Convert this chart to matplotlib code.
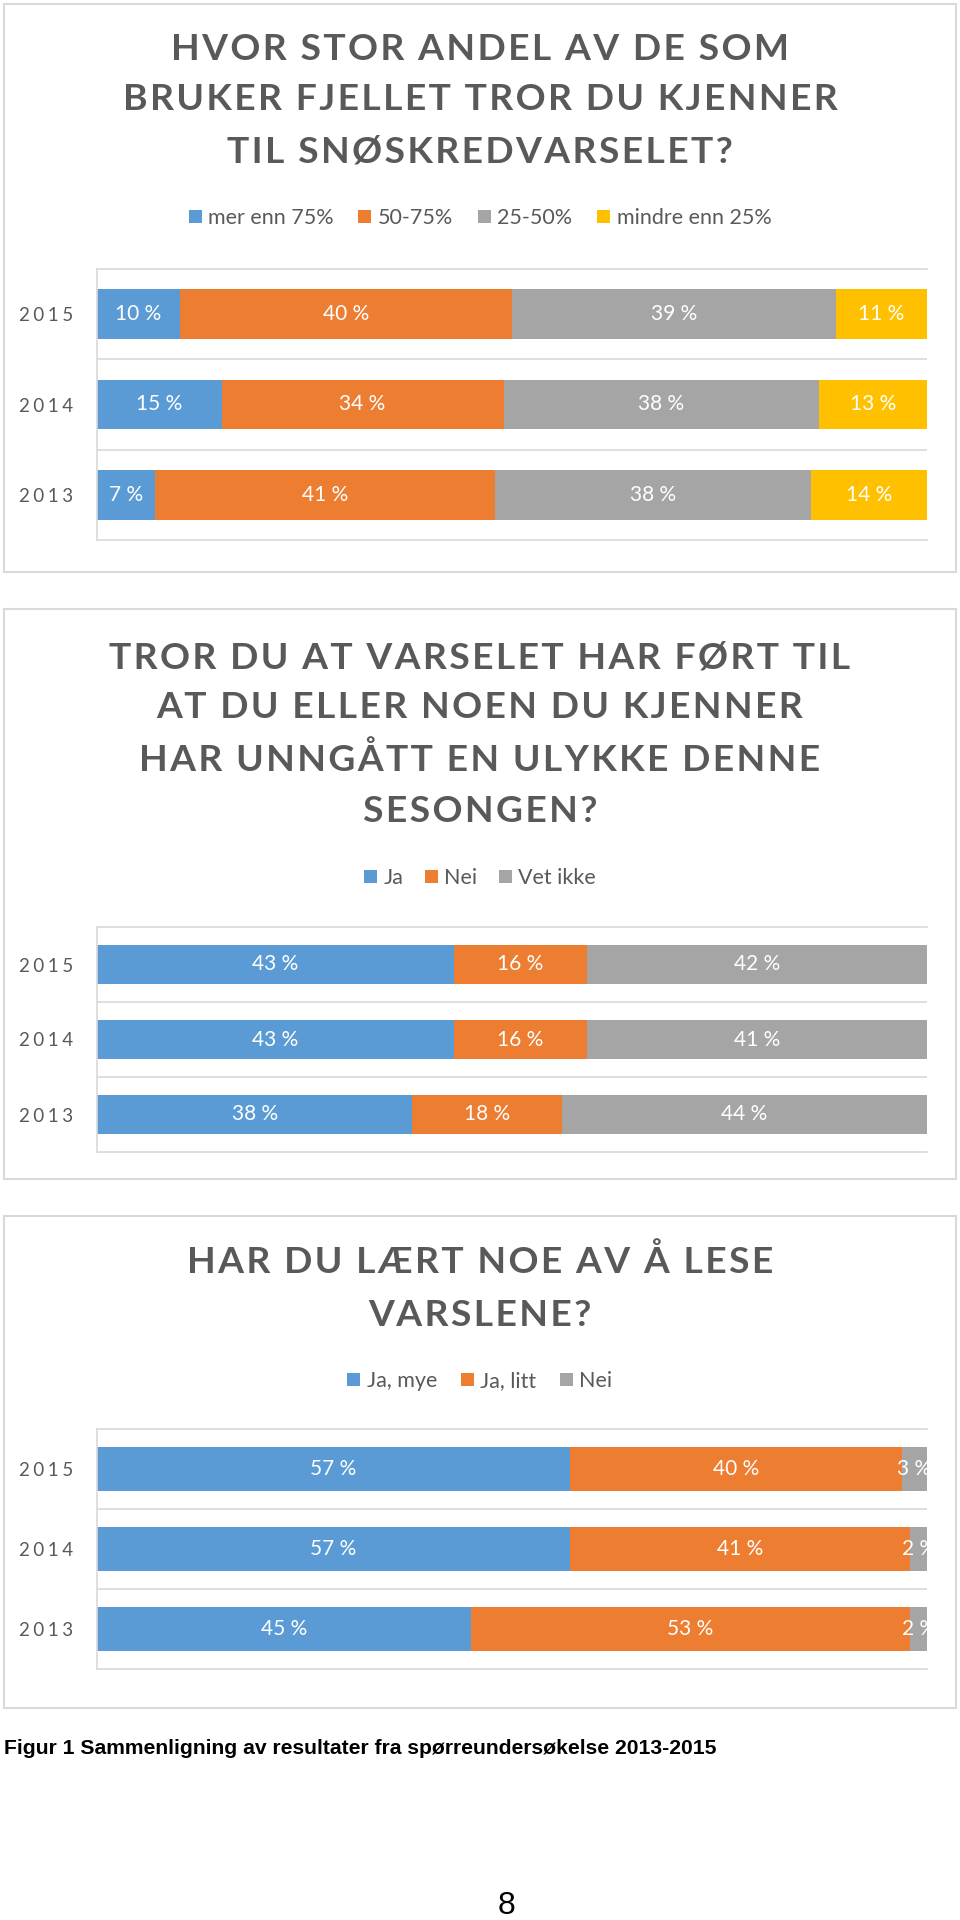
import matplotlib
matplotlib.use("Agg")
import matplotlib.pyplot as plt
from matplotlib.patches import Rectangle
import numpy as np

W, H = 960, 1920
years = ["2015", "2014", "2013"]

blue, orange, gray, yellow = "#5B9BD5", "#ED7D31", "#A5A5A5", "#FFC000"
text_gray = "#595959"
line_gray = "#D9D9D9"

# panel 1
q1_title = ["HVOR STOR ANDEL AV DE SOM", "BRUKER FJELLET TROR DU KJENNER", "TIL SNØSKREDVARSELET?"]
q1_names = ["mer enn 75%", "50-75%", "25-50%", "mindre enn 25%"]
q1_over75 = [10, 15, 7]
q1_50_75 = [40, 34, 41]
q1_25_50 = [39, 38, 38]
q1_under25 = [11, 13, 14]

# panel 2
q2_title = ["TROR DU AT VARSELET HAR FØRT TIL", "AT DU ELLER NOEN DU KJENNER",
            "HAR UNNGÅTT EN ULYKKE DENNE", "SESONGEN?"]
q2_names = ["Ja", "Nei", "Vet ikke"]
q2_ja = [43, 43, 38]
q2_nei = [16, 16, 18]
q2_vet = [42, 41, 44]

# panel 3
q3_title = ["HAR DU LÆRT NOE AV Å LESE", "VARSLENE?"]
q3_names = ["Ja, mye", "Ja, litt", "Nei"]
q3_mye = [57, 57, 45]
q3_litt = [40, 41, 53]
q3_nei = [3, 2, 2]

caption = "Figur 1 Sammenligning av resultater fra spørreundersøkelse 2013-2015"

FONT = ["Lato", "DejaVu Sans"]


def fx(x):
    return x / W


def fy(y):
    return 1 - y / H


def spaced(s, sep="\u200a"):
    return sep.join(s)


fig = plt.figure(figsize=(W / 100, H / 100), dpi=100)


def panel(box, title, title_ys, legend_y, ax_px, names, series, colors, bar_h, colsp):
    x0, y0, x1, y1 = box
    fig.patches.append(Rectangle((fx(x0), fy(y1)), fx(x1 - x0), (y1 - y0) / H,
                                 transform=fig.transFigure, fill=False,
                                 edgecolor=line_gray, lw=1.5))
    for line, ty in zip(title, title_ys):
        fig.text(0.5, fy(ty), spaced(line), ha="center", va="center",
                 family=FONT, weight="bold", fontsize=26.8, color=text_gray)

    ax_x0, ax_y0, ax_x1, ax_y1 = ax_px
    ax = fig.add_axes([fx(ax_x0), fy(ax_y1), fx(ax_x1 - ax_x0), (ax_y1 - ax_y0) / H])
    ypos = np.arange(len(years))[::-1]
    left = np.zeros(len(years))
    handles = []
    for name, vals, c in zip(names, series, colors):
        bars = ax.barh(ypos, vals, left=left, height=bar_h, color=c, label=name)
        ax.bar_label(bars, labels=[f"{v} %" for v in vals], label_type="center",
                     color="white", fontsize=15, family=FONT, clip_on=True)
        left += np.array(vals)
        handles.append(bars)
    ax.set_xlim(0, 100)
    ax.set_ylim(-0.5, len(years) - 0.5)
    ax.set_yticks(ypos)
    ax.set_yticklabels([spaced(y, "\u2009\u200a") for y in years], family=FONT,
                       fontsize=13.5, color=text_gray)
    ax.set_yticks([0.5, 1.5], minor=True)
    ax.grid(axis="y", which="minor", color=line_gray, lw=1.2)
    ax.set_axisbelow(True)
    ax.tick_params(axis="y", which="both", length=0, pad=17)
    ax.set_xticks([])
    for s in ["top", "bottom", "left"]:
        ax.spines[s].set_color(line_gray)
        ax.spines[s].set_linewidth(1.2)
    ax.spines["right"].set_visible(False)

    fig.legend(handles=handles, labels=names, loc="center",
               bbox_to_anchor=(0.5, fy(legend_y)), ncol=len(names), frameon=False,
               handlelength=0.6, handleheight=0.6, handletextpad=0.3,
               columnspacing=colsp, prop={"family": FONT, "size": 15.5},
               labelcolor=text_gray)


panel((4, 4, 956, 572), q1_title, [49, 100, 152], 218, (97, 269, 927, 540),
      q1_names, [q1_over75, q1_50_75, q1_25_50, q1_under25],
      [blue, orange, gray, yellow], 0.55, 1.15)

panel((4, 609, 956, 1179), q2_title, [658, 708, 760, 811], 878, (97, 927, 927, 1152),
      q2_names, [q2_ja, q2_nei, q2_vet], [blue, orange, gray], 0.53, 1.0)

panel((4, 1216, 956, 1708), q3_title, [1262, 1316], 1381, (97, 1429, 927, 1669),
      q3_names, [q3_mye, q3_litt, q3_nei], [blue, orange, gray], 0.56, 1.1)

fig.text(fx(4), fy(1749), caption, ha="left", va="center",
         family="Liberation Sans", weight="bold", fontsize=15.2, color="black")
fig.text(fx(507), fy(1906), "8", ha="center", va="center",
         family="Liberation Sans", fontsize=23, color="black")

fig.savefig("out.png", dpi=100, facecolor="white")
